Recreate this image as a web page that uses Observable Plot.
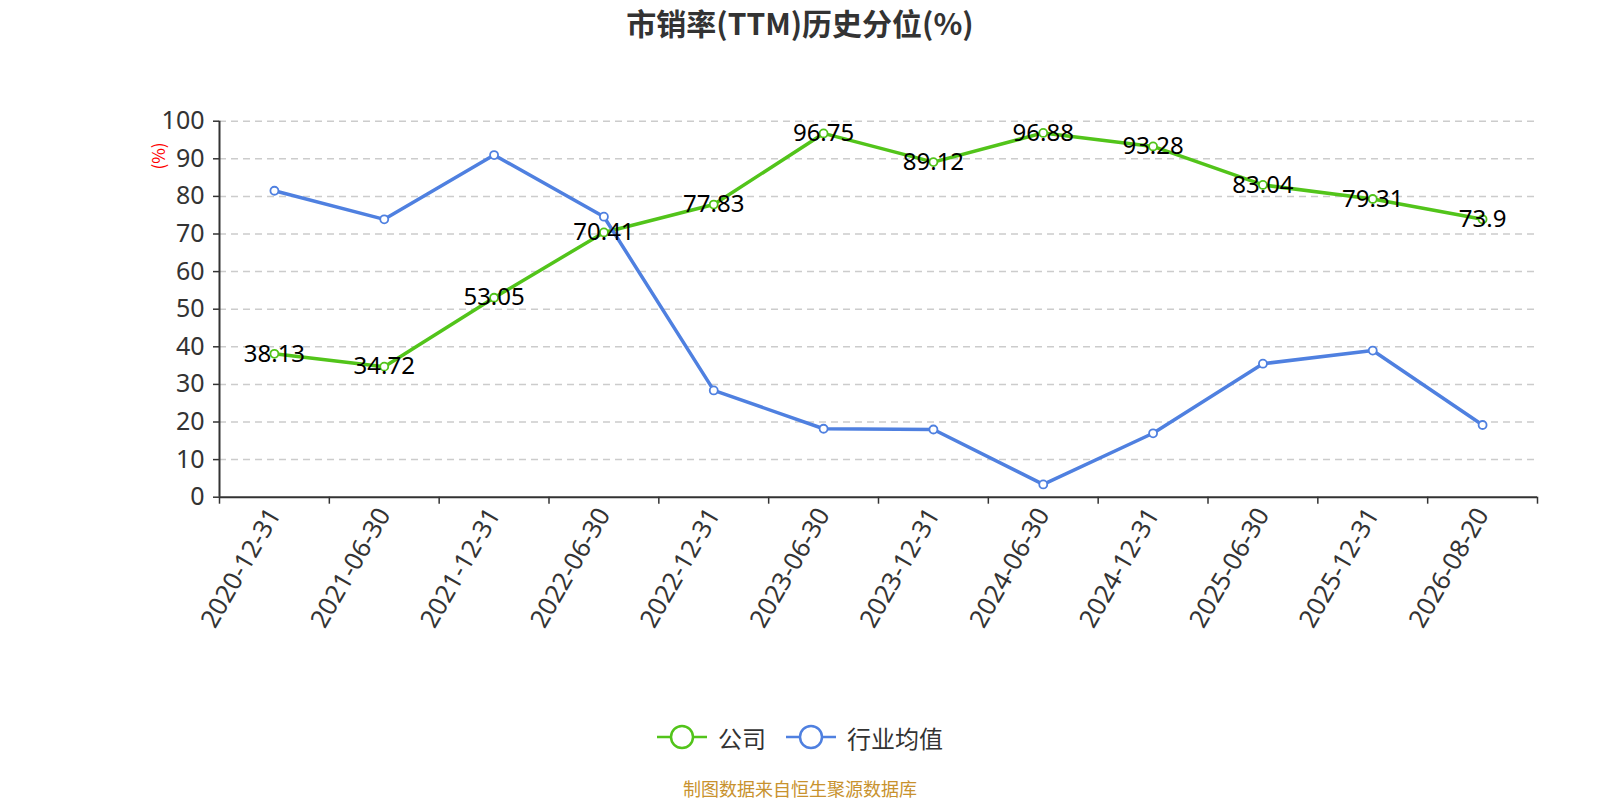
<!DOCTYPE html>
<html>
<head>
<meta charset="utf-8">
<script src="https://cdn.jsdelivr.net/npm/d3@7"></script>
<script src="https://cdn.jsdelivr.net/npm/@observablehq/plot@0.6"></script>
<style>
  body { margin: 0; background: #fff; font-family: "Noto Sans", "Noto Sans CJK SC", sans-serif; }
  #wrap { position: relative; width: 1600px; height: 800px; overflow: hidden; }
  #title { position: absolute; left: 0; top: 7px; width: 1600px; text-align: center;
           font-family: "Noto Sans CJK SC", sans-serif; font-size: 30px; line-height: 31px; font-weight: bold; color: #333; }
  #chart { position: absolute; left: 0; top: 60px; }
  #unit { position: absolute; left: 157px; top: 156px; transform: translate(-50%, -50%) rotate(-90deg);
          color: #f00; font-size: 17px; font-family: "Noto Sans CJK SC", sans-serif; white-space: nowrap; }
  #legend { position: absolute; left: 0; top: 722px; width: 1600px; height: 30px; display: flex;
            justify-content: center; align-items: center; font-family: "Noto Sans CJK SC", sans-serif;
            font-size: 24px; color: #333; }
  .item { display: flex; align-items: center; margin: 0 10px; }
  .item svg { margin-right: 11px; }
  #caption { position: absolute; left: 0; top: 778px; width: 1600px; text-align: center;
             font-family: "Noto Sans CJK SC", sans-serif; font-size: 18px; line-height: 21px; color: #c8922e; }
</style>
</head>
<body>
<div id="wrap">
  <div id="title">市销率(TTM)历史分位(%)</div>
  <div id="chart"></div>
  <div id="unit">(%)</div>
  <div id="legend"></div>
  <div id="caption">制图数据来自恒生聚源数据库</div>
</div>
<script>
const dates = ["2020-12-31","2021-06-30","2021-12-31","2022-06-30","2022-12-31","2023-06-30",
               "2023-12-31","2024-06-30","2024-12-31","2025-06-30","2025-12-31","2026-08-20"];
const company = [38.13, 34.72, 53.05, 70.41, 77.83, 96.75, 89.12, 96.88, 93.28, 83.04, 79.31, 73.9];
const industry = [81.5, 73.9, 91.0, 74.6, 28.4, 18.2, 18.0, 3.4, 17.0, 35.5, 39.0, 19.2];
const seriesNames = ["公司", "行业均值"];
const colors = ["#52c41a", "#4f80e0"];
const yTicks = [0, 10, 20, 30, 40, 50, 60, 70, 80, 90, 100];

const compRows = dates.map((d, i) => ({ i, date: d, v: company[i] }));
const indRows = dates.map((d, i) => ({ i, date: d, v: industry[i] }));
const boundaries = d3.range(dates.length + 1).map(k => k - 0.5);

const chart = Plot.plot({
  width: 1600,
  height: 600,
  marginLeft: 219,
  marginRight: 63,
  marginTop: 60.7,
  marginBottom: 163.3,
  style: { fontFamily: "'Noto Sans', 'Noto Sans CJK SC', sans-serif", background: "#fff" },
  x: { type: "linear", domain: [-0.5, dates.length - 0.5] },
  y: { domain: [0, 100] },
  marks: [
    Plot.gridY(yTicks.filter(t => t > 0), { stroke: "#cccccc", strokeOpacity: 1, strokeWidth: 1.5, strokeDasharray: "7,5" }),
    Plot.axisY(yTicks, { tickSize: 6, tickPadding: 9, fontSize: 25, color: "#333", strokeWidth: 1.5, label: null }),
    Plot.axisX(boundaries, { tickSize: 7, tickFormat: () => "", stroke: "#333", strokeWidth: 1.5, label: null }),
    Plot.axisX(d3.range(dates.length), { tickSize: 0, tickPadding: 13, tickRotate: -60, tickFormat: i => dates[i],
      fontSize: 25.5, fill: "#333", label: null }),
    Plot.ruleX([-0.5], { stroke: "#333", strokeWidth: 2 }),
    Plot.ruleY([0], { stroke: "#333", strokeWidth: 2 }),
    Plot.line(compRows, { x: "i", y: "v", stroke: colors[0], strokeWidth: 3.5 }),
    Plot.line(indRows, { x: "i", y: "v", stroke: colors[1], strokeWidth: 3.5 }),
    Plot.dot(compRows, { x: "i", y: "v", r: 4, fill: "white", stroke: colors[0], strokeWidth: 1.8 }),
    Plot.dot(indRows, { x: "i", y: "v", r: 4, fill: "white", stroke: colors[1], strokeWidth: 1.8 }),
    Plot.text(compRows, { x: "i", y: "v", text: d => String(d.v), fontSize: 24, fill: "#000" })
  ]
});
document.getElementById("chart").appendChild(chart);

const legend = document.getElementById("legend");
seriesNames.forEach((name, k) => {
  const item = document.createElement("div");
  item.className = "item";
  item.innerHTML = `<svg width="50" height="28"><line x1="0" y1="14" x2="50" y2="14" stroke="${colors[k]}" stroke-width="2.5"/>` +
    `<circle cx="25" cy="14" r="11" fill="#fff" stroke="${colors[k]}" stroke-width="2.5"/></svg><span>${name}</span>`;
  legend.appendChild(item);
});
</script>
</body>
</html>
